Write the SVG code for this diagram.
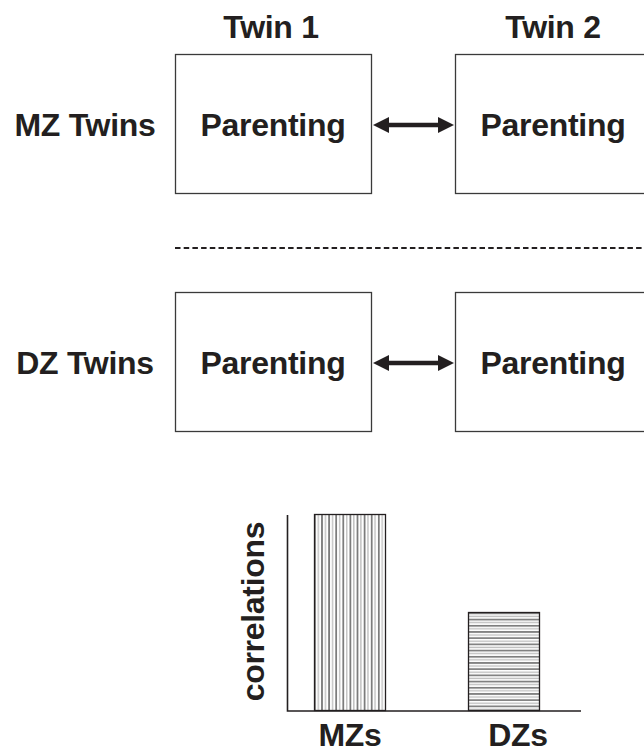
<svg xmlns="http://www.w3.org/2000/svg" width="644" height="754" viewBox="0 0 644 754">
<style>
  .t { font-family: "Liberation Sans", Arial, sans-serif; font-weight: bold; font-size: 32px; letter-spacing: -0.3px; fill: #231f20; }
  .box { fill: #ffffff; stroke: #3a3a3a; stroke-width: 1.3; }
  .conn { stroke: #231f20; stroke-width: 4.5; fill: none; }
  .axis { stroke: #231f20; stroke-width: 1.6; fill: none; }
  .bar { stroke: #231f20; stroke-width: 1.3; }
</style>
<defs>
  <marker id="ah" markerUnits="userSpaceOnUse" markerWidth="18" markerHeight="18" viewBox="0 -9 18 18" refX="1" refY="0" orient="auto-start-reverse">
    <path d="M0,-8 L16,0 L0,8 Z" fill="#231f20"/>
  </marker>
  <pattern id="vstripes" patternUnits="userSpaceOnUse" x="314" y="0" width="7.1" height="10">
    <rect x="0" y="0" width="7.1" height="10" fill="#ffffff"/>
    <rect x="0" y="0" width="1.8" height="10" fill="#7c7c7c"/>
    <rect x="3.6" y="0" width="1.4" height="10" fill="#c0c0c0"/>
  </pattern>
  <pattern id="hstripes" patternUnits="userSpaceOnUse" x="0" y="612.5" width="10" height="6.2">
    <rect x="0" y="0" width="10" height="6.2" fill="#ffffff"/>
    <rect x="0" y="0" width="10" height="1.7" fill="#7c7c7c"/>
    <rect x="0" y="3.2" width="10" height="1.4" fill="#c0c0c0"/>
  </pattern>
</defs>

<g id="col-headers">
  <text class="t" x="271" y="38" text-anchor="middle">Twin 1</text>
  <text class="t" x="553" y="38" text-anchor="middle">Twin 2</text>
</g>

<g id="row-labels">
  <text class="t" x="85" y="136" text-anchor="middle">MZ Twins</text>
  <text class="t" x="85" y="374" text-anchor="middle">DZ Twins</text>
</g>

<g id="mz-twin1">
  <rect class="box" x="175.5" y="54.5" width="196" height="139"/>
  <text class="t" x="273" y="136" text-anchor="middle">Parenting</text>
</g>
<g id="mz-twin2">
  <rect class="box" x="455.5" y="54.5" width="220" height="139"/>
  <text class="t" x="553" y="136" text-anchor="middle">Parenting</text>
</g>

<g id="separator">
  <line x1="175" y1="248" x2="644" y2="248" stroke="#231f20" stroke-width="2.2" stroke-dasharray="5.5 3.2"/>
</g>

<g id="dz-twin1">
  <rect class="box" x="175.5" y="292.5" width="196" height="139"/>
  <text class="t" x="273" y="374" text-anchor="middle">Parenting</text>
</g>
<g id="dz-twin2">
  <rect class="box" x="455.5" y="292.5" width="220" height="139"/>
  <text class="t" x="553" y="374" text-anchor="middle">Parenting</text>
</g>

<g id="connectors">
  <line class="conn" x1="388" y1="125" x2="439" y2="125" marker-start="url(#ah)" marker-end="url(#ah)"/>
  <line class="conn" x1="388" y1="363" x2="439" y2="363" marker-start="url(#ah)" marker-end="url(#ah)"/>
</g>

<g id="chart">
  <rect class="bar" x="314.5" y="514.5" width="71" height="196" fill="url(#vstripes)"/>
  <rect class="bar" x="468.5" y="612.5" width="71" height="98" fill="url(#hstripes)"/>
  <polyline class="axis" points="287.5,515 287.5,711 581,711"/>
  <text class="t" transform="translate(264,611.5) rotate(-90)" text-anchor="middle">correlations</text>
  <text class="t" x="350" y="746" text-anchor="middle">MZs</text>
  <text class="t" x="518" y="746" text-anchor="middle">DZs</text>
</g>
</svg>
